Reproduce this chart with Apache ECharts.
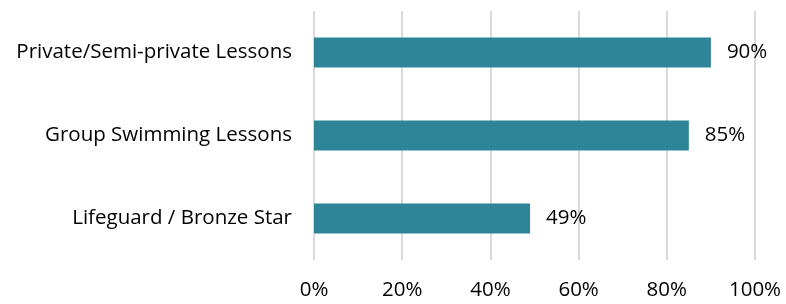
<!DOCTYPE html>
<html>
<head>
<meta charset="utf-8">
<script src="https://cdn.jsdelivr.net/npm/echarts@6/dist/echarts.min.js"></script>
<style>
  html, body { margin: 0; padding: 0; background: #fff; }
  #chart { width: 786px; height: 304px; }
</style>
</head>
<body>
<div id="chart"></div>
<script>
// 数据（从下到上）
const categories = ['Lifeguard / Bronze Star', 'Group Swimming Lessons', 'Private/Semi-private Lessons'];
const values = [49, 85, 90];
const xTicks = [0, 20, 40, 60, 80, 100];

const font = 'Open Sans';
const chart = echarts.init(document.getElementById('chart'));
chart.setOption({
  animation: false,
  grid: { left: 314, right: 31, top: 11, bottom: 44 },
  xAxis: {
    type: 'value',
    min: xTicks[0],
    max: xTicks[xTicks.length - 1],
    interval: 20,
    axisLine: { show: false },
    axisTick: { show: false },
    splitLine: { lineStyle: { color: '#d9d9d9', width: 2 } },
    axisLabel: {
      formatter: '{value}%',
      color: '#000',
      fontFamily: font,
      fontSize: 20.5,
      margin: 20
    }
  },
  yAxis: {
    type: 'category',
    data: categories,
    axisLine: { show: false },
    axisTick: { show: false },
    axisLabel: {
      color: '#000',
      fontFamily: font,
      fontSize: 20.5,
      margin: 22
    }
  },
  series: [{
    type: 'bar',
    data: values,
    barWidth: '36%',
    itemStyle: { color: '#2f8598' },
    label: {
      show: true,
      position: 'right',
      distance: 16,
      formatter: '{c}%',
      color: '#000',
      fontFamily: font,
      fontSize: 20.5
    }
  }]
});
</script>
</body>
</html>
